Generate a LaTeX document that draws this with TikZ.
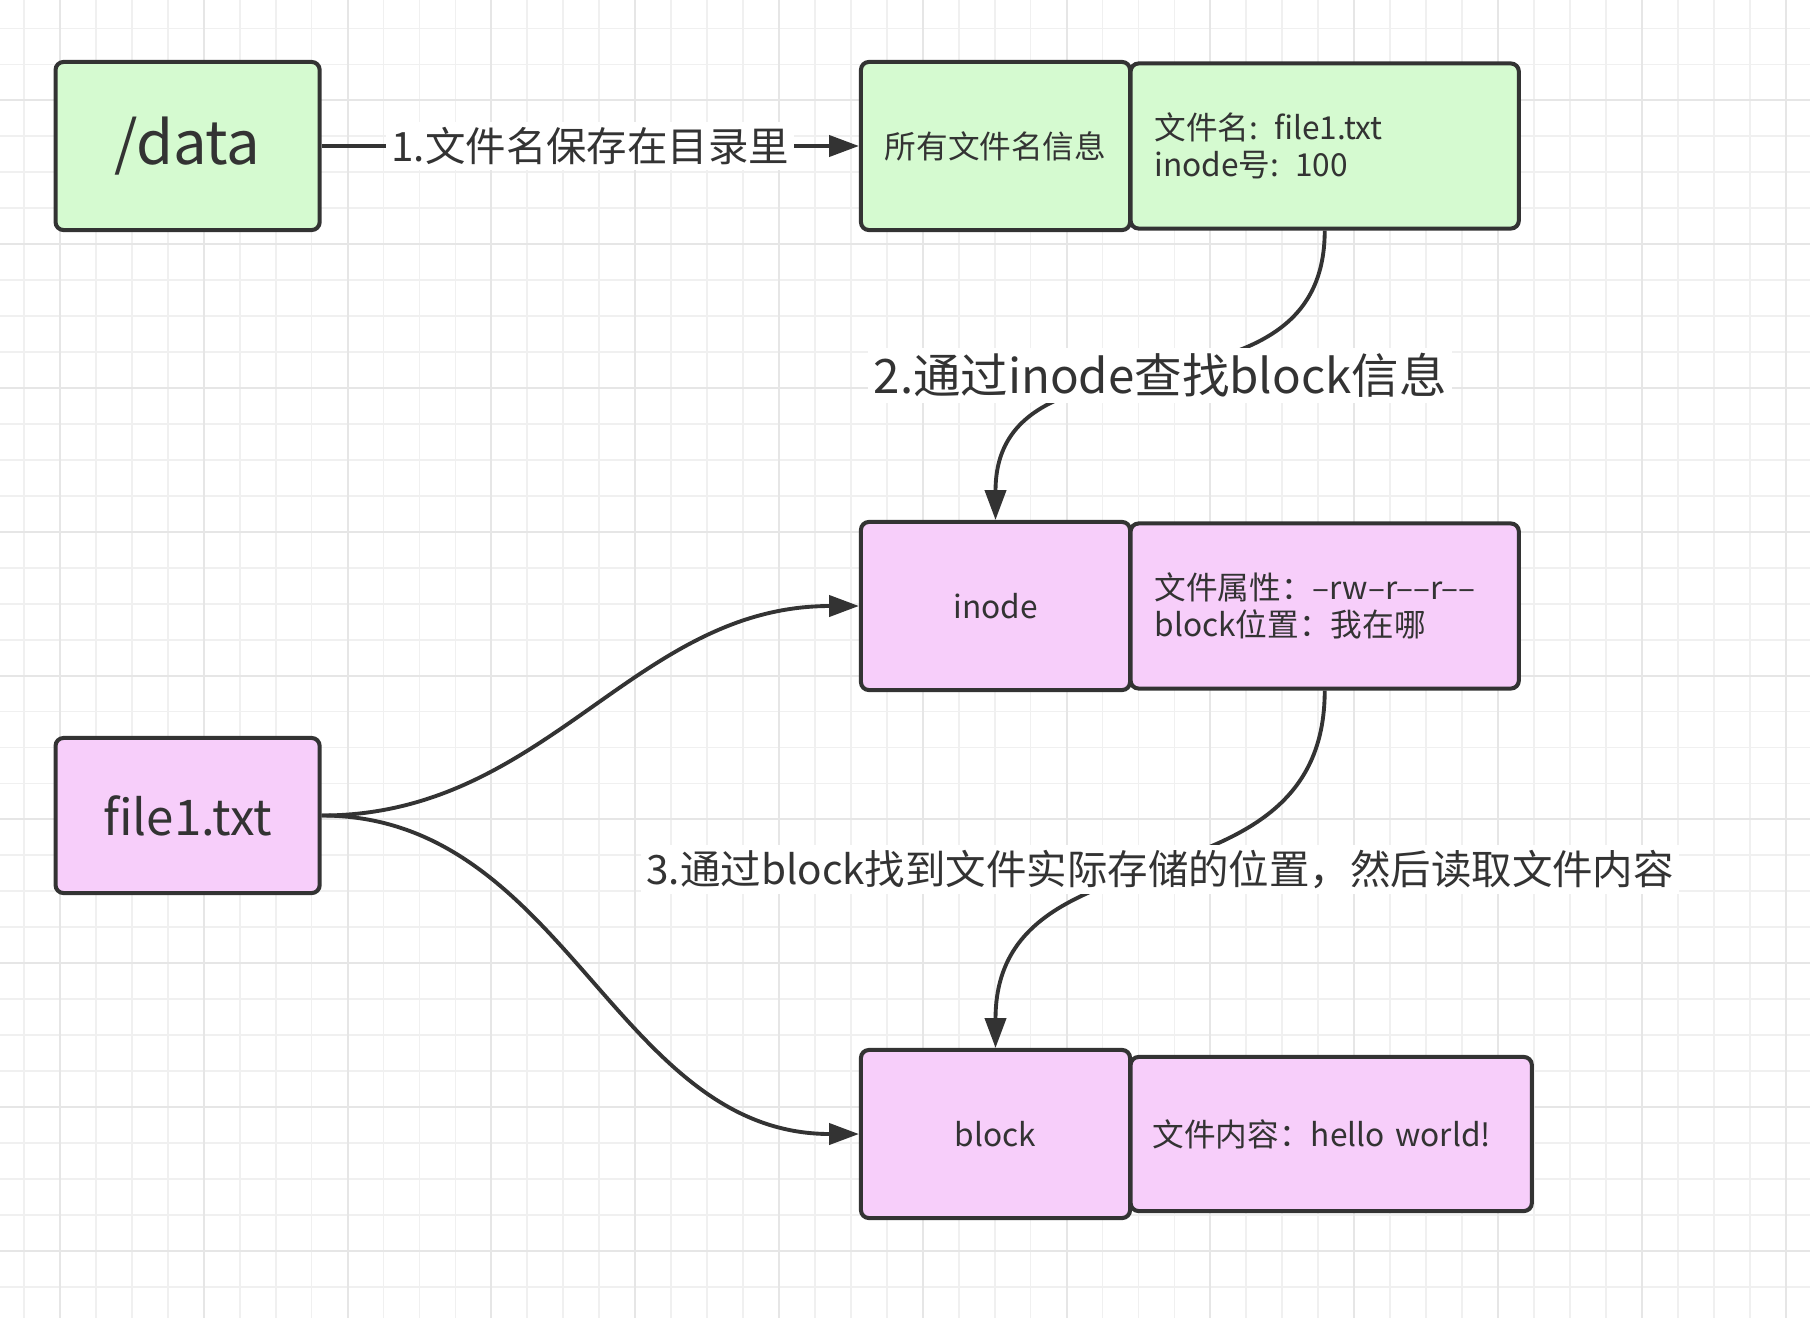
\documentclass[tikz,border=0pt]{standalone}
\usepackage{fontspec}
\setmainfont{Noto Sans CJK SC}
\usetikzlibrary{positioning,arrows.meta}
\definecolor{gfill}{HTML}{D5FAD0}
\definecolor{pfill}{HTML}{F7CEFA}
\definecolor{ink}{HTML}{333333}
\definecolor{gridminor}{HTML}{F0F0F0}
\definecolor{gridmajor}{HTML}{E6E6E6}
\newcommand{\boxfont}{\fontsize{9pt}{10.5pt}\selectfont}
\newcommand{\lblfont}{\fontsize{11.5pt}{13pt}\selectfont}
\newcommand{\bigfont}{\fontsize{13.5pt}{15pt}\selectfont}
\tikzset{
  box/.style={draw=ink, line width=1.15pt, rounded corners=0.08cm, text=ink,
    minimum width=2.69cm, minimum height=1.68cm, inner sep=0pt, font=\boxfont},
  greenbox/.style={box, fill=gfill},
  pinkbox/.style={box, fill=pfill},
  infobox/.style={align=left, inner xsep=0.24cm, minimum height=1.65cm},
  link/.style={draw=ink, line width=1.1pt, -{Triangle[length=8.5pt,width=6pt]}},
  lbl/.style={fill=white, text=ink, inner sep=1.5pt},
  gridline/.style={gridminor, line width=0.5pt},
  gridbold/.style={gridmajor, line width=0.6pt}
}

\begin{document}
\begin{tikzpicture}[x=0.01cm,y=-0.01cm]
\useasboundingbox (0,0) rectangle (1810,1318);
\fill[white] (0,0) rectangle (1810,1318);
% grid
\foreach \i in {0,...,49} \draw[gridline] ({24+35.95*\i},0) -- ({24+35.95*\i},1318);
\foreach \j in {0,...,35} \draw[gridline] (0,{28.5+35.95*\j}) -- (1810,{28.5+35.95*\j});
\foreach \i in {1,5,...,49} \draw[gridbold] ({24+35.95*\i},0) -- ({24+35.95*\i},1318);
\foreach \j in {2,6,...,34} \draw[gridbold] (0,{28.5+35.95*\j}) -- (1810,{28.5+35.95*\j});

% directory
\node[greenbox, minimum width=2.64cm, font=\fontsize{17pt}{20pt}\selectfont] (dir) at (187.6,146) {/data};
\node[greenbox] (names) at (995.5,146) {所有文件名信息};
\node[greenbox, infobox, text width=3.4cm, right=-1pt of names] (entry) {文件名: file1.txt\\inode号: 100};

% inode
\node[pinkbox] (inode) at (995.5,606) {inode};
\node[pinkbox, infobox, text width=3.4cm, right=-1pt of inode] (attr) {文件属性：–rw–r––r––\\block位置：我在哪};

% file and block
\node[pinkbox, minimum width=2.64cm, minimum height=1.55cm, font=\fontsize{14pt}{16pt}\selectfont] (file) at (187.6,815.5) {file1.txt};
\node[pinkbox] (block) at (995.5,1134) {block};
\node[pinkbox, infobox, inner xsep=0.22cm, text width=3.57cm, minimum height=1.54cm, right=-1pt of block] (data) {文件内容：hello world!};

% links
\draw[link] (dir) -- node[lbl, font=\lblfont] {1.文件名保存在目录里} (names);
\draw[link] (entry.south) to[out=-90,in=90,looseness=1.2] node[lbl, font=\bigfont] {2.通过inode查找block信息} (inode.north);
\draw[link] (attr.south) to[out=-90,in=90,looseness=1.2] node[lbl, font=\lblfont] {3.通过block找到文件实际存储的位置，然后读取文件内容} (block.north);
\draw[link] (file.east) to[out=0,in=180] (inode.west);
\draw[link] (file.east) to[out=0,in=180] (block.west);
\end{tikzpicture}
\end{document}
